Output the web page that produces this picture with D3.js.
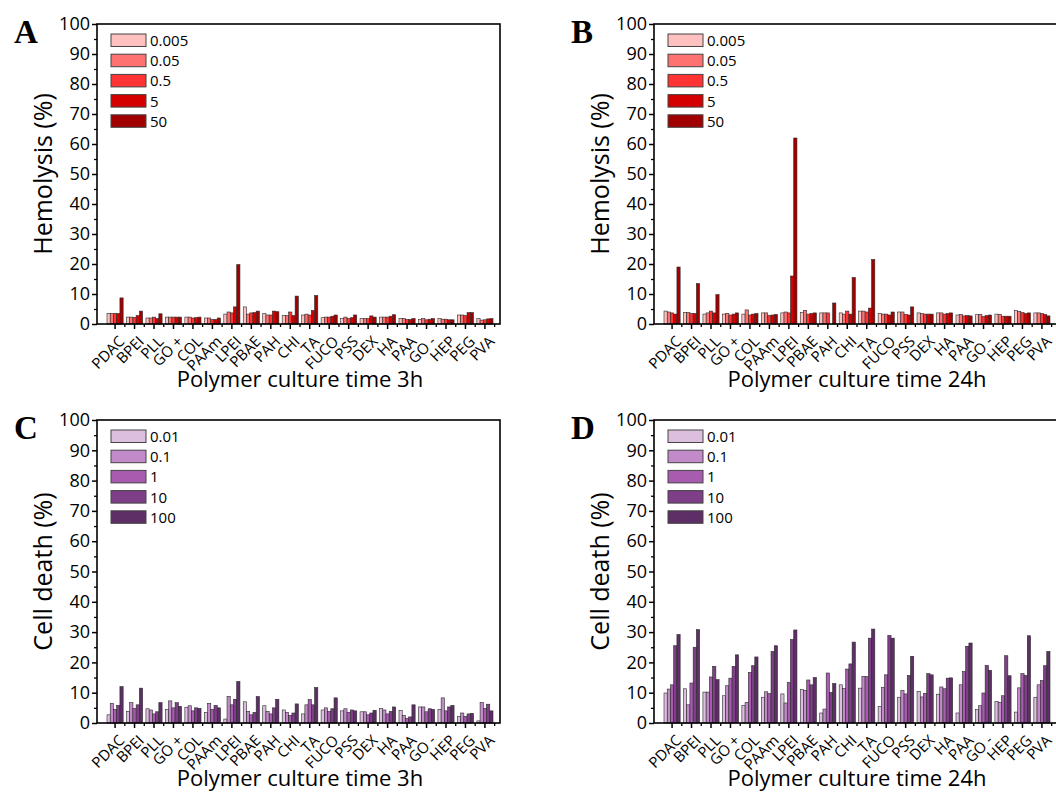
<!DOCTYPE html>
<html>
<head>
<meta charset="utf-8">
<script src="https://cdn.jsdelivr.net/npm/d3@7"></script>
<style>
  body { margin: 0; background: #fff; }
  svg text { font-family: "Open Sans", "Noto Sans", sans-serif; fill: #000; }
  .letter { font-family: "Liberation Serif", "DejaVu Serif", serif !important; font-weight: bold; }
</style>
</head>
<body>
<div id="chart"></div>
<script>
let categories = ['PDAC', 'BPEI', 'PLL', 'GO +', 'COL', 'PAAm', 'LPEI', 'PBAE', 'PAH', 'CHI',
                  'TA', 'FUCO', 'PSS', 'DEX', 'HA', 'PAA', 'GO -', 'HEP', 'PEG', 'PVA'];
let hemoDoses = ['0.005', '0.05', '0.5', '5', '50'];
let cellDoses = ['0.01', '0.1', '1', '10', '100'];
let yTicks = [0, 10, 20, 30, 40, 50, 60, 70, 80, 90, 100];

// one row per polymer, one value per dose
let hemo3h = [
  [3.5, 3.5, 3.5, 3.5, 8.7], [2.3, 2.3, 2.2, 2.8, 4.3], [2.0, 2.0, 2.3, 1.8, 3.4], [2.3, 2.3, 2.3, 2.3, 2.3],
  [2.3, 2.3, 2.0, 2.1, 2.3], [2.0, 2.0, 1.5, 1.5, 2.0], [3.3, 4.0, 3.7, 5.7, 19.8], [5.7, 3.3, 3.7, 3.8, 4.3],
  [3.5, 3.0, 3.0, 4.3, 4.1], [2.8, 2.8, 4.0, 2.8, 9.3], [3.0, 3.3, 3.0, 4.5, 9.5], [2.1, 2.3, 2.3, 2.6, 3.0],
  [1.8, 2.3, 1.8, 2.1, 3.0], [1.8, 1.8, 1.8, 2.7, 2.3], [2.3, 2.3, 2.3, 2.6, 3.1], [1.8, 1.8, 1.5, 1.5, 1.8],
  [1.5, 1.8, 1.4, 1.6, 1.8], [1.8, 1.6, 1.6, 1.4, 1.4], [3.0, 3.0, 2.8, 3.8, 3.8], [1.8, 1.3, 1.4, 1.7, 1.8]
];
let hemo24h = [
  [4.3, 4.0, 3.7, 3.3, 19.0], [3.8, 3.8, 3.5, 3.5, 13.5], [3.3, 3.7, 4.3, 3.7, 9.8], [3.3, 3.5, 3.0, 3.3, 3.7],
  [3.3, 4.7, 3.0, 3.3, 3.5], [3.7, 3.7, 2.8, 3.0, 3.2], [3.7, 4.0, 3.7, 16.0, 62.0], [3.8, 4.5, 3.3, 3.5, 3.7],
  [3.7, 3.7, 3.7, 0, 7.0], [3.7, 3.3, 4.3, 3.3, 15.5], [4.3, 4.3, 4.0, 5.3, 21.5], [3.5, 3.3, 3.3, 3.0, 4.0],
  [4.0, 4.0, 3.2, 3.0, 5.7], [3.7, 3.5, 3.3, 3.3, 3.3], [3.7, 3.7, 3.3, 3.5, 3.7], [3.0, 3.2, 2.7, 2.8, 2.7],
  [3.1, 3.2, 2.5, 2.8, 3.0], [3.3, 3.2, 2.6, 2.6, 2.6], [4.5, 4.2, 3.8, 3.5, 3.7], [3.7, 3.7, 3.5, 3.2, 2.7]
];
let cell3h = [
  [2.7, 6.5, 4.5, 5.8, 12.0], [3.8, 6.7, 4.8, 6.0, 11.5], [4.7, 4.3, 3.0, 3.7, 6.7], [4.5, 7.3, 5.0, 6.7, 5.5],
  [5.2, 5.7, 4.0, 5.0, 4.8], [3.5, 6.5, 4.5, 5.8, 5.0], [1.3, 8.8, 6.0, 7.8, 13.7], [7.0, 3.8, 2.7, 3.5, 8.7],
  [5.7, 3.8, 3.0, 5.0, 7.8], [4.3, 3.5, 2.5, 3.3, 6.3], [3.0, 6.0, 7.7, 6.0, 11.7], [4.3, 5.0, 3.8, 4.7, 8.3],
  [4.0, 4.7, 3.5, 4.3, 4.0], [3.7, 3.7, 2.7, 3.3, 4.2], [4.8, 4.3, 3.0, 3.8, 5.3], [4.2, 2.5, 1.5, 2.0, 6.0],
  [5.3, 5.3, 3.7, 4.7, 4.5], [4.5, 8.3, 4.0, 5.3, 5.8], [2.2, 3.3, 2.2, 3.0, 3.2], [0.7, 6.8, 4.8, 6.2, 4.0]
];
let cell24h = [
  [9.9, 11.2, 12.6, 25.5, 29.2], [11.3, 6.0, 13.2, 25.0, 30.8], [10.2, 10.2, 15.2, 18.7, 14.3], [9.0, 12.3, 14.8, 18.7, 22.5],
  [5.8, 6.8, 16.7, 18.9, 21.8], [8.5, 10.3, 9.7, 23.6, 25.5], [9.6, 6.6, 13.4, 27.5, 30.7], [11.0, 10.8, 14.2, 12.6, 15.0],
  [3.3, 4.6, 16.5, 10.1, 13.0], [12.6, 11.4, 17.8, 19.5, 26.7], [11.5, 15.4, 15.3, 28.0, 31.0], [5.5, 11.8, 15.9, 28.9, 28.0],
  [8.5, 10.8, 9.6, 15.7, 22.0], [10.4, 8.6, 9.8, 16.3, 15.9], [9.5, 11.9, 11.3, 14.8, 14.9], [3.3, 12.6, 17.0, 25.3, 26.4],
  [4.4, 5.7, 9.9, 19.0, 17.4], [7.1, 6.8, 9.0, 22.2, 15.6], [3.6, 11.6, 16.3, 15.7, 28.8], [8.5, 12.6, 14.0, 18.9, 23.6]
];

let hemoColors = ['#ffc0c0', '#ff7272', '#ff3333', '#d40000', '#a00000'];
let cellColors = ['#dcbede', '#c28ac8', '#a75cb0', '#7e3e88', '#5e2f66'];

let panels = [
  {letter: 'A', data: hemo3h, doses: hemoDoses, colors: hemoColors, ylab: 'Hemolysis (%)', xlab: 'Polymer culture time 3h', left: 97, top: 24, bottom: 324},
  {letter: 'B', data: hemo24h, doses: hemoDoses, colors: hemoColors, ylab: 'Hemolysis (%)', xlab: 'Polymer culture time 24h', left: 654, top: 24, bottom: 324},
  {letter: 'C', data: cell3h, doses: cellDoses, colors: cellColors, ylab: 'Cell death (%)', xlab: 'Polymer culture time 3h', left: 97, top: 420, bottom: 723},
  {letter: 'D', data: cell24h, doses: cellDoses, colors: cellColors, ylab: 'Cell death (%)', xlab: 'Polymer culture time 24h', left: 654, top: 420, bottom: 723}
];

let plotW = 403;

let svg = d3.select("#chart")
            .append("svg")
            .attr("width", 1056)
            .attr("height", 794);

panels.forEach(function(p) {
  let g = svg.append("g")
             .attr("transform", "translate(" + p.left + "," + p.top + ")");
  let h = p.bottom - p.top;

  let x = d3.scaleBand()
            .domain(categories)
            .range([10, plotW - 7])
            .paddingInner(0.17);
  let xs = d3.scaleBand()
             .domain(d3.range(p.doses.length))
             .range([0, x.bandwidth()]);
  let y = d3.scaleLinear()
            .domain([0, 100])
            .range([h, 0]);

  // bars
  g.selectAll(".grp")
   .data(p.data)
   .enter().append("g")
    .attr("transform", function(d, i) { return "translate(" + x(categories[i]) + ",0)"; })
   .selectAll("rect")
   .data(function(d) { return d; })
   .enter().append("rect")
    .attr("x", function(d, j) { return xs(j); })
    .attr("width", xs.bandwidth())
    .attr("y", function(d) { return y(d); })
    .attr("height", function(d) { return h - y(d); })
    .attr("fill", function(d, j) { return p.colors[j]; })
    .attr("stroke", "#2a2a2a")
    .attr("stroke-width", 0.6);

  // frame
  g.append("rect")
   .attr("width", plotW)
   .attr("height", h)
   .attr("fill", "none")
   .attr("stroke", "#000")
   .attr("stroke-width", 1.6);

  // y axis
  let yAxis = g.append("g")
               .call(d3.axisLeft(y).tickValues(yTicks).tickSize(5).tickPadding(2));
  yAxis.select(".domain").remove();
  yAxis.selectAll("line").attr("stroke-width", 1.5);
  yAxis.selectAll("text").style("font-size", "18px");
  g.append("g")
   .call(d3.axisLeft(y).tickValues(d3.range(5, 100, 10)).tickSize(3).tickFormat(""))
   .call(function(s) { s.select(".domain").remove(); s.selectAll("line").attr("stroke-width", 1.3); });

  // x axis: ticks at group centres plus minor ticks between groups
  let xAxis = g.append("g")
               .attr("transform", "translate(0," + h + ")")
               .call(d3.axisBottom(x).tickSize(5).tickPadding(0));
  xAxis.select(".domain").remove();
  xAxis.selectAll("line").attr("stroke-width", 1.5);
  xAxis.selectAll("text")
       .style("font-size", "15px")
       .attr("text-anchor", "end")
       .attr("y", 0)
       .attr("dy", "0.7em")
       .attr("transform", "translate(3,11) rotate(-45)");
  let mids = categories.map(function(c) { return x(c) + x.bandwidth() / 2 + x.step() / 2; });
  g.selectAll(".minor")
   .data(mids)
   .enter().append("line")
    .attr("x1", function(d) { return d; })
    .attr("x2", function(d) { return d; })
    .attr("y1", h)
    .attr("y2", h + 3)
    .attr("stroke", "#000")
    .attr("stroke-width", 1.3);

  // legend
  let leg = g.append("g").attr("transform", "translate(14,10)");
  leg.selectAll("rect")
     .data(p.doses)
     .enter().append("rect")
      .attr("x", 0)
      .attr("y", function(d, i) { return i * 20.2; })
      .attr("width", 35)
      .attr("height", 12.5)
      .attr("fill", function(d, i) { return p.colors[i]; })
      .attr("stroke", "#444")
      .attr("stroke-width", 1);
  leg.selectAll("text")
     .data(p.doses)
     .enter().append("text")
      .attr("x", 39)
      .attr("y", function(d, i) { return i * 20.2 + 12; })
      .style("font-size", "15px")
      .text(function(d) { return d; });

  // titles
  g.append("text")
   .attr("text-anchor", "middle")
   .attr("transform", "rotate(-90)")
   .attr("x", -h / 2)
   .attr("y", -45)
   .style("font-size", "25px")
   .text(p.ylab);

  g.append("text")
   .attr("text-anchor", "middle")
   .attr("x", 203)
   .attr("y", h + 63)
   .style("font-size", "22px")
   .text(p.xlab);

  g.append("text")
   .attr("class", "letter")
   .attr("x", -83)
   .attr("y", 19)
   .style("font-size", "33px")
   .text(p.letter);
});
</script>
</body>
</html>
